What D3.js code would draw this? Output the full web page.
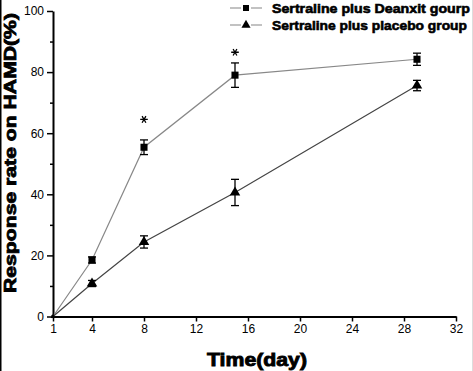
<!DOCTYPE html>
<html>
<head>
<meta charset="utf-8">
<script src="https://cdn.jsdelivr.net/npm/d3@7"></script>
<style>
  body { margin: 0; background: #fff; }
  svg { display: block; }
</style>
</head>
<body>
<svg id="chart" width="473" height="371"></svg>
<script>
// data
const days = [1, 4, 8, 15, 29];
const deanxitRate = [0, 18.5, 55.4, 79.0, 84.2];
const deanxitErr = [0, 1.0, 2.4, 4.0, 2.0];
const placeboRate = [0, 10.8, 24.4, 40.6, 75.6];
const placeboErr = [0, 1.0, 2.0, 4.3, 1.7];
const starDays = [8, 15];
const starLevels = [64.5, 86.5];
const xTicks = [1, 4, 8, 12, 16, 20, 24, 28, 32];
const yTicks = [0, 20, 40, 60, 80, 100];
const yMinorTicks = [10, 30, 50, 70, 90];
const seriesNames = ["Sertraline plus Deanxit gourp", "Sertraline plus placebo group"];

const svg = d3.select("#chart");
const font = "Liberation Sans, Arial, sans-serif";

// frame edges of the original picture
svg.append("line").attr("x1", 0.75).attr("x2", 0.75).attr("y1", 0).attr("y2", 371)
    .attr("stroke", "#000").attr("stroke-width", 1.5);
svg.append("line").attr("x1", 472.5).attr("x2", 472.5).attr("y1", 0).attr("y2", 371)
    .attr("stroke", "#ddd").attr("stroke-width", 1);

const x = d3.scaleLinear().domain([1, 32]).range([53, 456]);
const y = d3.scaleLinear().domain([0, 100]).range([316.5, 11]);

//x axis
const gx = svg.append("g")
    .attr("transform", "translate(0," + y(0) + ")")
    .call(d3.axisBottom(x).tickValues(xTicks).tickSize(5).tickSizeOuter(0).tickPadding(3));
gx.select(".domain").attr("stroke-width", 2);
gx.selectAll(".tick line").attr("stroke-width", 1.5);
gx.selectAll("text").attr("font-family", font).attr("font-size", 12).attr("fill", "#000");

//y axis
svg.append("g")
    .attr("transform", "translate(" + x(1) + ",0)")
    .call(d3.axisLeft(y).tickValues(yMinorTicks).tickSize(3).tickFormat(""))
    .call(g => g.select(".domain").remove())
    .selectAll(".tick line").attr("stroke-width", 1.5);
const gy = svg.append("g")
    .attr("transform", "translate(" + x(1) + ",0)")
    .call(d3.axisLeft(y).tickValues(yTicks).tickSize(6).tickSizeOuter(0).tickPadding(3));
gy.select(".domain").attr("stroke-width", 2);
gy.selectAll(".tick line").attr("stroke-width", 1.5);
gy.selectAll("text").attr("font-family", font).attr("font-size", 12).attr("fill", "#000");

// axis titles (stroked a little to get the heavy look of the original)
svg.append("text")
    .attr("transform", "translate(16,153) rotate(-90)")
    .attr("text-anchor", "middle")
    .attr("font-family", font)
    .attr("font-weight", "bold").attr("font-size", 17)
    .attr("stroke", "#000").attr("stroke-width", 0.8)
    .attr("textLength", 280).attr("lengthAdjust", "spacingAndGlyphs")
    .text("Response rate on HAMD(%)");
svg.append("text")
    .attr("x", 257).attr("y", 366)
    .attr("text-anchor", "middle")
    .attr("font-family", font)
    .attr("font-weight", "bold").attr("font-size", 19)
    .attr("stroke", "#000").attr("stroke-width", 0.9)
    .attr("textLength", 100).attr("lengthAdjust", "spacingAndGlyphs")
    .text("Time(day)");

const series = [
    {name: seriesNames[0], vals: deanxitRate, err: deanxitErr, color: "#888", shape: d3.symbolSquare, size: 50},
    {name: seriesNames[1], vals: placeboRate, err: placeboErr, color: "#444", shape: d3.symbolTriangle, size: 48}
];

series.forEach(s => {
    const pts = days.map((d, i) => ({day: d, v: s.vals[i], e: s.err[i]}));

    svg.append("path")
        .datum(pts)
        .attr("fill", "none")
        .attr("stroke", s.color)
        .attr("stroke-width", 1.2)
        .attr("d", d3.line().x(d => x(d.day)).y(d => y(d.v)));

    //error bars
    const eb = svg.append("g").selectAll("g")
        .data(pts.filter(d => d.e > 0))
        .join("g")
        .attr("stroke", "#000").attr("stroke-width", 1.3);
    eb.append("line")
        .attr("x1", d => x(d.day)).attr("x2", d => x(d.day))
        .attr("y1", d => y(d.v + d.e)).attr("y2", d => y(d.v - d.e));
    eb.append("line")
        .attr("x1", d => x(d.day) - 4).attr("x2", d => x(d.day) + 4)
        .attr("y1", d => y(d.v + d.e)).attr("y2", d => y(d.v + d.e));
    eb.append("line")
        .attr("x1", d => x(d.day) - 4).attr("x2", d => x(d.day) + 4)
        .attr("y1", d => y(d.v - d.e)).attr("y2", d => y(d.v - d.e));

    svg.append("g").selectAll("path")
        .data(pts)
        .join("path")
        .attr("transform", d => "translate(" + x(d.day) + "," + y(d.v) + ")")
        .attr("d", d3.symbol().type(s.shape).size(d => d.v === 0 ? 10 : s.size))
        .attr("fill", "#000");
});

// significance marks, drawn as six-armed asterisks
svg.selectAll(".star")
    .data(starDays.map((d, i) => ({day: d, level: starLevels[i]})))
    .join("path")
    .attr("class", "star")
    .attr("transform", d => "translate(" + x(d.day) + "," + y(d.level) + ")")
    .attr("d", d3.symbol().type(d3.symbolAsterisk).size(40))
    .attr("stroke", "#000").attr("stroke-width", 1.3)
    .attr("transform", d => "translate(" + x(d.day) + "," + y(d.level) + ") rotate(90)");

// legend
const legend = svg.append("g").selectAll("g")
    .data(series)
    .join("g")
    .attr("transform", (d, i) => "translate(0," + (8 + i * 17) + ")");
legend.append("line").attr("x1", 230).attr("x2", 241).attr("y1", 0).attr("y2", 0)
    .attr("stroke", "#999").attr("stroke-width", 1.2);
legend.append("line").attr("x1", 251).attr("x2", 262).attr("y1", 0).attr("y2", 0)
    .attr("stroke", "#999").attr("stroke-width", 1.2);
legend.append("path")
    .attr("transform", "translate(246,0)")
    .attr("d", d => d3.symbol().type(d.shape).size(36)())
    .attr("fill", "#000");
legend.append("text")
    .attr("x", 272).attr("y", 0).attr("dy", "0.36em")
    .attr("font-family", font)
    .attr("font-weight", "bold").attr("font-size", 13)
    .attr("stroke", "#000").attr("stroke-width", 0.6)
    .attr("textLength", (d, i) => i === 0 ? 198 : 195)
    .attr("lengthAdjust", "spacingAndGlyphs")
    .text(d => d.name);
</script>
</body>
</html>
